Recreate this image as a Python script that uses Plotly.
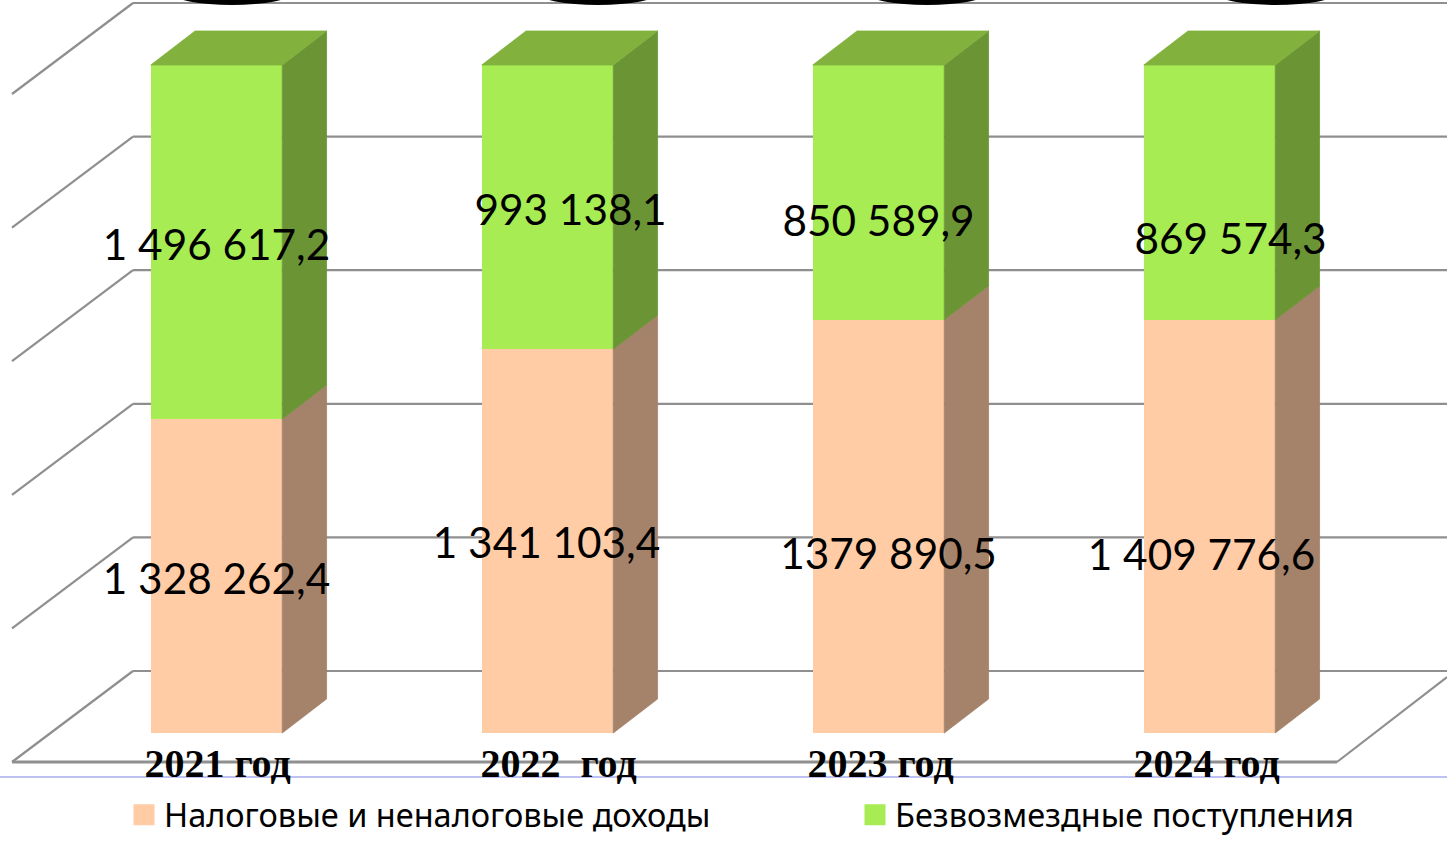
import numpy as np
import plotly.graph_objects as go

W, H = 1447, 847

# ---- data ----
categories = ["2021 год", "2022\u00a0\u00a0год", "2023 год", "2024 год"]
series_names = ["Налоговые и неналоговые доходы", "Безвозмездные поступления"]
tax_values = [1328262.4, 1341103.4, 1379890.5, 1409776.6]
grant_values = [1496617.2, 993138.1, 850589.9, 869574.3]
tax_labels = ["1 328 262,4", "1 341 103,4", "1379 890,5", "1 409 776,6"]
grant_labels = ["1 496 617,2", "993 138,1", "850 589,9", "869 574,3"]
grid_values = [0, 20, 40, 60, 80, 100]

# ---- styles / layout constants (pixels of the 1447x847 frame) ----
PX_X = 331.0            # pixels per category step
PX_Y = 6.68             # pixels per percent
X0_PX = 216.5           # pixel of first bar centre
Y0_PX = 733.0           # pixel of the 0 % level on the front of the bars
BAR_W = 131.5 / PX_X
DX = 44.3 / PX_X        # bar depth
DY = 34 / PX_Y
WALL_X = (133 - X0_PX) / PX_X
FLOOR_X0 = (12 - X0_PX) / PX_X
FLOOR_X1 = (1337 - X0_PX) / PX_X
BACK_DY = 62 / PX_Y
FRONT_DY = -29 / PX_Y
xr = [-X0_PX / PX_X, (W - X0_PX) / PX_X]
yr = [(Y0_PX - H) / PX_Y, Y0_PX / PX_Y]

# label nudges in pixels (dx, dy: y down)
tax_nudge = [(0, 7), (-1, 6), (10, 32), (-8, 33)]
grant_nudge = [(0, 7), (23, 7), (0, 33), (21, 51)]
cat_nudge = [1, 11, 2, -3]

C_TAX, C_TAX_SIDE = "#FFCCA6", "#A5826A"
C_GRANT, C_GRANT_SIDE, C_GRANT_TOP = "#A6EC52", "#6B9535", "#82B13E"
C_GRID = "#8F8F8F"

xs = np.arange(len(categories), dtype=float)
tax = np.array(tax_values)
grant = np.array(grant_values)
tax_pct = tax / (tax + grant) * 100


def px2y(dy):
    return -dy / PX_Y


fig = go.Figure()

# front faces
fig.add_trace(go.Bar(x=xs, y=tax, width=BAR_W, marker=dict(color=C_TAX, line_width=0),
                     showlegend=False, name=series_names[0]))
fig.add_trace(go.Bar(x=xs, y=grant, width=BAR_W, marker=dict(color=C_GRANT, line_width=0),
                     showlegend=False, name=series_names[1]))


def poly(px, py, color):
    fig.add_trace(go.Scatter(x=px, y=py, mode="lines", fill="toself", fillcolor=color,
                             line=dict(width=0.8, color=color), hoverinfo="skip", showlegend=False))


# side and top faces, derived from the values
for x, p in zip(xs, tax_pct):
    r = x + BAR_W / 2
    l = x - BAR_W / 2
    poly([r, r + DX, r + DX, r, r], [0, DY, p + DY, p, 0], C_TAX_SIDE)
    poly([r, r + DX, r + DX, r, r], [p, p + DY, 100 + DY, 100, p], C_GRANT_SIDE)
    poly([l, r, r + DX, l + DX, l], [100, 100, 100 + DY, 100 + DY, 100], C_GRANT_TOP)

# data labels
lx = [x + n[0] / PX_X for x, n in zip(xs, tax_nudge)]
ly = [p / 2 + px2y(n[1]) for p, n in zip(tax_pct, tax_nudge)]
gx = [x + n[0] / PX_X for x, n in zip(xs, grant_nudge)]
gy = [(p + 100) / 2 + px2y(n[1]) for p, n in zip(tax_pct, grant_nudge)]
fig.add_trace(go.Scatter(x=lx + gx, y=ly + gy, mode="text", text=tax_labels + grant_labels,
                         textposition="middle center",
                         textfont=dict(family="Lato, Open Sans, sans-serif", size=42.3, color="black"),
                         hoverinfo="skip", showlegend=False))

# legend entries
for name, color, lg in zip(series_names, [C_TAX, C_GRANT], ["legend", "legend2"]):
    fig.add_trace(go.Scatter(x=[None], y=[None], mode="markers", name=name, legend=lg,
                             marker=dict(symbol="square", size=16, color=color,
                                         line=dict(width=5, color=color))))

shapes = []


def line(x0, y0, x1, y1, color=C_GRID, width=2.2):
    shapes.append(dict(type="line", xref="x", yref="y", x0=x0, y0=y0, x1=x1, y1=y1,
                       layer="below", line=dict(color=color, width=width)))


for v in grid_values:
    line(FLOOR_X0, v + FRONT_DY, WALL_X, v + BACK_DY)
    line(WALL_X, v + BACK_DY, xr[1], v + BACK_DY)
line(FLOOR_X0, FRONT_DY, FLOOR_X1, FRONT_DY, width=3.2)
line(FLOOR_X1, FRONT_DY, FLOOR_X1 + 110 / PX_X, FRONT_DY + 85 / PX_Y)
shapes.append(dict(type="line", xref="paper", yref="y", x0=0, x1=1, y0=(Y0_PX - 777) / PX_Y,
                   y1=(Y0_PX - 777) / PX_Y, layer="below", line=dict(color="#A8AEEE", width=1.6)))

# dark ellipses clipped by the top edge of the picture
for cx in [232, 598, 927, 1276]:
    shapes.append(dict(type="circle", xref="x", yref="y", layer="below",
                       x0=(cx - 60 - X0_PX) / PX_X, x1=(cx + 60 - X0_PX) / PX_X,
                       y0=(Y0_PX - 5) / PX_Y, y1=(Y0_PX + 19) / PX_Y,
                       fillcolor="black", line_width=0))

legend_common = dict(orientation="h", y=(H - 815) / H, yanchor="middle", bgcolor="rgba(0,0,0,0)",
                     font=dict(family="Noto Sans, Open Sans, sans-serif", size=32.5, color="black"))

fig.update_layout(
    width=W, height=H, margin=dict(l=0, r=0, t=0, b=0),
    paper_bgcolor="white", plot_bgcolor="white",
    barmode="stack", barnorm="percent",
    shapes=shapes,
    legend=dict(x=124 / W, xanchor="left", **legend_common),
    legend2=dict(x=855 / W, xanchor="left", **legend_common),
    xaxis=dict(range=xr, showgrid=False, zeroline=False, showline=False, ticks="",
               tickmode="array", tickvals=[x + n / PX_X for x, n in zip(xs, cat_nudge)],
               ticktext=categories, anchor="free", position=(H - 736) / H,
               tickfont=dict(family="Liberation Serif", size=40, color="black", weight="bold")),
    yaxis=dict(range=yr, showgrid=False, zeroline=False, showline=False, showticklabels=False,
               ticks=""),
)

fig.write_html("out.html", config=dict(displayModeBar=False),
               post_script="document.body.style.margin='0';document.body.style.overflow='hidden';")
